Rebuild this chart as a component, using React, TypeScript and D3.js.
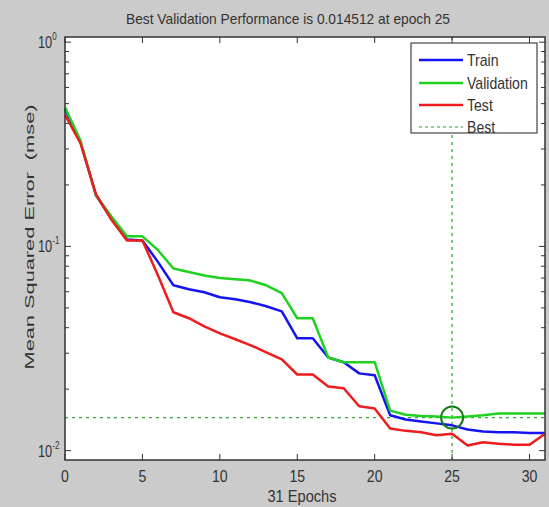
import React from 'react';
import * as d3 from 'd3';

// mse per epoch (epochs 0..31)
const trainMse = [0.47, 0.325, 0.178, 0.137, 0.108, 0.107, 0.084, 0.0645, 0.0617, 0.0596, 0.0564, 0.0551,
  0.0533, 0.0509, 0.0481, 0.0355, 0.0355, 0.0286, 0.0271, 0.0239, 0.0234, 0.0149, 0.0142, 0.0139,
  0.0136, 0.0133, 0.0127, 0.0124, 0.0123, 0.0123, 0.0122, 0.0122];
const validationMse = [0.48, 0.33, 0.178, 0.14, 0.112, 0.112, 0.096, 0.078, 0.075, 0.072, 0.07, 0.069,
  0.068, 0.0645, 0.059, 0.0445, 0.0445, 0.0286, 0.0271, 0.0271, 0.0271, 0.0157, 0.015, 0.0148,
  0.0147, 0.014512, 0.0147, 0.0149, 0.0152, 0.0152, 0.0152, 0.0152];
const testMse = [0.44, 0.32, 0.18, 0.135, 0.107, 0.107, 0.0723, 0.0476, 0.0445, 0.0406, 0.0375, 0.0351,
  0.0328, 0.0303, 0.028, 0.0236, 0.0236, 0.0206, 0.0202, 0.0165, 0.0161, 0.01285, 0.0125, 0.0123,
  0.0119, 0.0121, 0.0106, 0.011, 0.0108, 0.0107, 0.0107, 0.0121];

const bestEpoch = 25;
const bestValue = 0.014512;
const totalEpochs = 31;

const xTickValues = [0, 5, 10, 15, 20, 25, 30];
const yDecades = [1, 0.1, 0.01];
const yDecadeExps = ['0', '-1', '-2'];

const legendNames = ['Train', 'Validation', 'Test', 'Best'];
const legendColors = ['#1414f0', '#1fd21f', '#ee1c1c', '#6cc36c'];

const W = 549;
const H = 507;
const box = { left: 65, right: 545, top: 37, bottom: 460 };
const font = '"Liberation Sans", Arial, sans-serif';
const textColor = '#333';
// the picture's text is a bit squeezed sideways
const squeeze = 0.88;

export default function App() {
  const x = d3.scaleLinear().domain([0, totalEpochs]).range([box.left, box.right]);
  const y = d3.scaleLog().domain([0.009, 1.06]).range([box.bottom, box.top]);

  const line = d3.line<number>()
    .x((_, i) => x(i))
    .y(d => y(d));

  const yMinor = y.ticks().filter(t => y(t) > box.top + 1 && y(t) < box.bottom - 1);
  const isDecade = (t: number) => Math.abs(Math.log10(t) - Math.round(Math.log10(t))) < 1e-6;

  const series = [
    { values: trainMse, color: legendColors[0] },
    { values: validationMse, color: legendColors[1] },
    { values: testMse, color: legendColors[2] },
  ];

  const legend = { x: 411, y: 43, w: 126, h: 90 };
  const legendRows = [60, 83, 105, 127];

  const title = `Best Validation Performance is ${bestValue} at epoch ${bestEpoch}`;
  const xTitle = `${totalEpochs} Epochs`;

  return (
    <svg width={W} height={H} style={{ position: 'absolute', left: 0, top: 0 }} fontFamily={font}>
      <rect x={0} y={0} width={W} height={H} fill="#cbcbcb" />
      <rect x={box.left} y={box.top} width={box.right - box.left} height={box.bottom - box.top} fill="#fff" />

      {/* best markers */}
      <line x1={x(bestEpoch)} x2={x(bestEpoch)} y1={box.top} y2={box.bottom}
        stroke="#3aa83a" strokeWidth={1.3} strokeDasharray="3,4" />
      <line x1={box.left} x2={box.right} y1={y(bestValue)} y2={y(bestValue)}
        stroke="#3aa83a" strokeWidth={1.3} strokeDasharray="3,4" />

      {series.map((s, i) => (
        <path key={i} d={line(s.values) || ''} fill="none" stroke={s.color} strokeWidth={2.5}
          strokeLinejoin="round" />
      ))}

      <circle cx={x(bestEpoch)} cy={y(bestValue)} r={11} fill="none" stroke="#157a15" strokeWidth={2} />

      {/* ticks, pointing inward on all four sides */}
      {xTickValues.map(t => (
        <g key={'xt' + t} stroke="#333" strokeWidth={1}>
          <line x1={x(t)} x2={x(t)} y1={box.bottom} y2={box.bottom - 6} />
          <line x1={x(t)} x2={x(t)} y1={box.top} y2={box.top + 6} />
        </g>
      ))}
      {yMinor.map(t => {
        const len = isDecade(t) ? 6 : 4;
        return (
          <g key={'yt' + t} stroke="#333" strokeWidth={1}>
            <line x1={box.left} x2={box.left + len} y1={y(t)} y2={y(t)} />
            <line x1={box.right} x2={box.right - len} y1={y(t)} y2={y(t)} />
          </g>
        );
      })}

      <rect x={box.left} y={box.top} width={box.right - box.left} height={box.bottom - box.top}
        fill="none" stroke="#333" strokeWidth={1.5} />

      {/* legend */}
      <rect x={legend.x} y={legend.y} width={legend.w} height={legend.h} fill="#fff" stroke="#444" strokeWidth={1.2} />
      {legendNames.map((name, i) => (
        <g key={name}>
          <line x1={419} x2={463} y1={legendRows[i]} y2={legendRows[i]} stroke={legendColors[i]}
            strokeWidth={i === 3 ? 1.3 : 2.5} strokeDasharray={i === 3 ? '3,3' : undefined} />
          <text transform={`translate(467,${legendRows[i] + 6}) scale(${squeeze},1)`} fontSize={16}
            fill={textColor}>{name}</text>
        </g>
      ))}

      {/* tick labels */}
      {xTickValues.map(t => (
        <text key={'xl' + t} transform={`translate(${x(t)},482) scale(${squeeze},1)`} fontSize={16}
          textAnchor="middle" fill={textColor}>{String(t)}</text>
      ))}
      {yDecades.map((d, i) => (
        <text key={'yl' + d} transform={`translate(38,${y(d) + 6}) scale(0.8,1)`} fontSize={16} fill={textColor}>
          10<tspan fontSize={10} dy={-8}>{yDecadeExps[i]}</tspan>
        </text>
      ))}

      <text x={288} y={24} fontSize={15} textAnchor="middle" fill={textColor}
        textLength={324} lengthAdjust="spacingAndGlyphs">{title}</text>
      <text x={302} y={502} fontSize={16} textAnchor="middle" fill={textColor}
        textLength={69} lengthAdjust="spacingAndGlyphs">{xTitle}</text>
      <text transform="translate(34,237) rotate(-90)" fontSize={13.5} textAnchor="middle" fill={textColor}
        textLength={265} lengthAdjust="spacingAndGlyphs" style={{ whiteSpace: 'pre' }}>
        {'Mean Squared Error  (mse)'}
      </text>
    </svg>
  );
}
